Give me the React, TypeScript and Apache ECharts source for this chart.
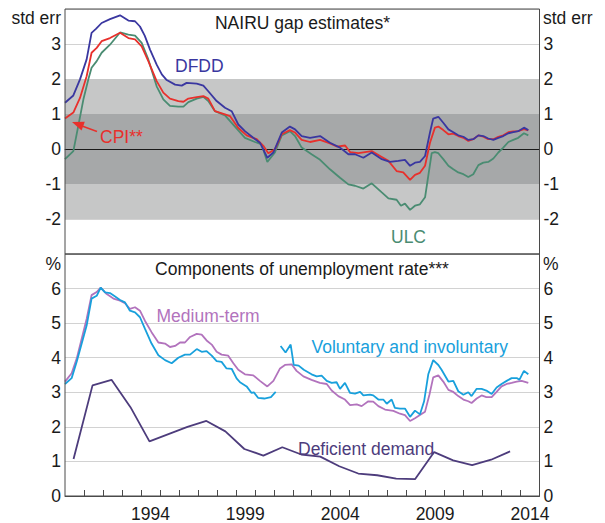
import React, { useEffect, useRef } from 'react';
import * as echarts from 'echarts';

// ---- Data (x = decimal year) ----
const dfdd: [number, number][] = [
  [1990.0, 1.32], [1990.44, 1.53], [1990.79, 1.99], [1991.14, 2.56], [1991.4, 3.32], [1991.63, 3.43], [1991.93, 3.6], [1992.37, 3.71], [1992.9, 3.82], [1993.34, 3.67], [1993.69, 3.65], [1993.95, 3.5], [1994.2, 3.24], [1994.48, 2.84], [1994.83, 2.41], [1995.1, 2.13], [1995.36, 1.97], [1995.8, 1.84], [1996.15, 1.81], [1996.41, 1.89], [1996.94, 1.87], [1997.29, 1.81], [1997.55, 1.65], [1997.99, 1.37], [1998.43, 1.18], [1998.78, 1.08], [1999.13, 0.7], [1999.48, 0.51], [1999.92, 0.32], [2000.27, 0.18], [2000.66, -0.25], [2000.98, -0.1], [2001.42, 0.47], [2001.85, 0.64], [2002.12, 0.56], [2002.47, 0.37], [2002.91, 0.32], [2003.44, 0.37], [2003.96, 0.18], [2004.49, 0.04], [2004.93, -0.15], [2005.28, -0.15], [2005.72, -0.25], [2006.16, -0.1], [2006.69, -0.29], [2007.12, -0.37], [2007.56, -0.34], [2007.91, -0.31], [2008.18, -0.48], [2008.44, -0.39], [2008.7, -0.37], [2008.97, -0.2], [2009.23, 0.47], [2009.4, 0.87], [2009.67, 0.92], [2009.93, 0.75], [2010.2, 0.56], [2010.46, 0.48], [2010.72, 0.39], [2010.99, 0.35], [2011.25, 0.26], [2011.51, 0.28], [2011.78, 0.39], [2012.04, 0.37], [2012.3, 0.3], [2012.57, 0.26], [2012.83, 0.32], [2013.09, 0.37], [2013.36, 0.45], [2013.62, 0.48], [2013.88, 0.51], [2014.18, 0.61], [2014.41, 0.54],
];

const cpi: [number, number][] = [
  [1990.0, 0.87], [1990.44, 1.04], [1990.79, 1.46], [1991.14, 2.08], [1991.4, 2.75], [1991.67, 2.89], [1991.93, 3.08], [1992.37, 3.17], [1992.9, 3.32], [1993.34, 3.17], [1993.69, 3.13], [1994.04, 2.93], [1994.39, 2.51], [1994.83, 1.94], [1995.18, 1.61], [1995.53, 1.44], [1995.97, 1.37], [1996.24, 1.35], [1996.5, 1.44], [1996.94, 1.48], [1997.29, 1.51], [1997.55, 1.44], [1997.9, 1.08], [1998.43, 0.99], [1998.69, 0.94], [1999.13, 0.6], [1999.57, 0.39], [2000.1, 0.28], [2000.45, 0.09], [2000.71, -0.12], [2001.06, -0.01], [2001.42, 0.42], [2001.85, 0.54], [2002.12, 0.47], [2002.47, 0.26], [2002.91, 0.2], [2003.44, 0.26], [2003.96, 0.16], [2004.32, 0.07], [2004.76, 0.1], [2005.02, -0.09], [2005.46, -0.12], [2005.81, -0.09], [2006.16, -0.06], [2006.6, -0.2], [2007.04, -0.34], [2007.47, -0.63], [2007.82, -0.67], [2008.18, -0.88], [2008.44, -0.74], [2008.7, -0.68], [2008.97, -0.48], [2009.23, 0.18], [2009.49, 0.61], [2009.67, 0.64], [2009.93, 0.54], [2010.2, 0.42], [2010.46, 0.44], [2010.72, 0.37], [2010.99, 0.32], [2011.25, 0.23], [2011.51, 0.28], [2011.78, 0.39], [2012.04, 0.35], [2012.3, 0.28], [2012.57, 0.28], [2012.83, 0.35], [2013.09, 0.39], [2013.36, 0.48], [2013.62, 0.5], [2013.88, 0.51], [2014.18, 0.57], [2014.41, 0.53],
];

const ulc: [number, number][] = [
  [1990.0, -0.29], [1990.44, -0.06], [1990.7, 0.66], [1990.97, 1.42], [1991.23, 1.99], [1991.4, 2.32], [1991.67, 2.51], [1991.93, 2.75], [1992.37, 2.98], [1992.9, 3.33], [1993.34, 3.27], [1993.69, 3.24], [1994.04, 3.03], [1994.39, 2.56], [1994.83, 1.79], [1995.18, 1.42], [1995.53, 1.23], [1995.97, 1.21], [1996.24, 1.21], [1996.5, 1.34], [1996.94, 1.44], [1997.29, 1.49], [1997.55, 1.37], [1997.9, 1.08], [1998.43, 0.96], [1999.13, 0.53], [1999.48, 0.32], [2000.01, 0.2], [2000.36, 0.13], [2000.66, -0.37], [2001.06, -0.1], [2001.42, 0.39], [2001.85, 0.51], [2002.12, 0.37], [2002.47, 0.04], [2002.99, -0.15], [2003.44, -0.31], [2003.96, -0.58], [2004.49, -0.82], [2004.93, -1.01], [2005.28, -1.05], [2005.72, -1.13], [2006.16, -0.98], [2006.69, -1.24], [2007.04, -1.41], [2007.47, -1.45], [2007.7, -1.62], [2007.91, -1.56], [2008.18, -1.74], [2008.44, -1.62], [2008.7, -1.58], [2008.97, -1.38], [2009.14, -0.77], [2009.32, -0.12], [2009.49, -0.09], [2009.67, -0.12], [2009.93, -0.29], [2010.2, -0.48], [2010.46, -0.58], [2010.72, -0.67], [2010.99, -0.72], [2011.25, -0.8], [2011.51, -0.72], [2011.78, -0.46], [2012.04, -0.39], [2012.3, -0.37], [2012.57, -0.27], [2012.83, -0.1], [2013.09, 0.04], [2013.36, 0.2], [2013.62, 0.26], [2013.88, 0.32], [2014.18, 0.45], [2014.41, 0.39],
];

const mediumTerm: [number, number][] = [
  [1990.0, 3.31], [1990.35, 3.55], [1990.62, 3.98], [1990.88, 4.55], [1991.14, 5.12], [1991.4, 5.81], [1991.67, 5.9], [1991.88, 6.03], [1992.2, 5.84], [1992.55, 5.71], [1992.9, 5.65], [1993.16, 5.58], [1993.42, 5.41], [1993.69, 5.46], [1993.95, 5.36], [1994.21, 5.07], [1994.56, 4.74], [1994.92, 4.44], [1995.27, 4.41], [1995.53, 4.31], [1995.8, 4.34], [1996.06, 4.44], [1996.32, 4.44], [1996.59, 4.6], [1996.94, 4.69], [1997.2, 4.67], [1997.46, 4.5], [1997.73, 4.38], [1997.99, 4.17], [1998.25, 4.09], [1998.6, 4.06], [1998.87, 3.84], [1999.13, 3.65], [1999.48, 3.52], [1999.92, 3.49], [2000.27, 3.33], [2000.66, 3.17], [2000.98, 3.33], [2001.33, 3.69], [2001.59, 3.79], [2001.94, 3.81], [2002.2, 3.62], [2002.56, 3.46], [2002.99, 3.36], [2003.43, 3.27], [2003.79, 3.24], [2004.05, 3.05], [2004.4, 2.89], [2004.75, 2.79], [2005.02, 2.63], [2005.37, 2.65], [2005.63, 2.6], [2005.98, 2.74], [2006.24, 2.73], [2006.51, 2.6], [2006.86, 2.5], [2007.3, 2.46], [2007.65, 2.38], [2007.91, 2.34], [2008.18, 2.17], [2008.44, 2.25], [2008.7, 2.34], [2008.97, 2.44], [2009.2, 2.93], [2009.4, 3.43], [2009.67, 3.49], [2009.93, 3.31], [2010.2, 3.07], [2010.46, 3.01], [2010.72, 2.89], [2010.99, 2.79], [2011.25, 2.74], [2011.42, 2.69], [2011.69, 2.82], [2011.95, 2.91], [2012.2, 2.86], [2012.48, 2.86], [2012.74, 3.01], [2013.0, 3.17], [2013.27, 3.24], [2013.53, 3.27], [2013.8, 3.31], [2014.06, 3.33], [2014.41, 3.27],
];

const voluntary: [number, number | string][] = [
  [1990.0, 3.24], [1990.35, 3.41], [1990.62, 3.89], [1990.88, 4.41], [1991.14, 4.93], [1991.4, 5.71], [1991.67, 5.79], [1991.88, 6.03], [1992.11, 5.89], [1992.37, 5.87], [1992.64, 5.77], [1992.9, 5.67], [1993.16, 5.6], [1993.42, 5.36], [1993.69, 5.31], [1993.95, 5.17], [1994.21, 4.84], [1994.56, 4.41], [1994.92, 4.07], [1995.27, 3.93], [1995.62, 3.84], [1995.97, 4.0], [1996.32, 4.09], [1996.59, 4.09], [1996.94, 4.25], [1997.2, 4.17], [1997.46, 4.19], [1997.73, 4.06], [1997.99, 3.9], [1998.25, 3.88], [1998.51, 3.69], [1998.78, 3.68], [1999.04, 3.4], [1999.22, 3.29], [1999.57, 3.17], [1999.83, 2.98], [1999.95, 3.0], [2000.17, 2.84], [2000.5, 2.82], [2000.85, 2.86], [2001.1, 3.01], [2001.23, '-'], [2001.36, 4.34], [2001.62, 4.15], [2001.89, 4.38], [2002.05, 3.79], [2002.31, 3.77], [2002.58, 3.65], [2002.99, 3.52], [2003.26, 3.46], [2003.52, 3.48], [2003.79, 3.33], [2004.05, 3.27], [2004.31, 3.29], [2004.49, 3.1], [2004.75, 3.27], [2005.02, 2.98], [2005.28, 2.96], [2005.55, 3.01], [2005.72, 2.91], [2006.07, 2.93], [2006.24, 2.91], [2006.51, 2.79], [2006.77, 2.79], [2006.95, 2.67], [2007.21, 2.79], [2007.38, 2.55], [2007.65, 2.53], [2007.91, 2.53], [2008.18, 2.29], [2008.44, 2.47], [2008.7, 2.36], [2008.92, 2.74], [2009.14, 3.52], [2009.4, 3.93], [2009.67, 3.79], [2009.84, 3.65], [2010.2, 3.31], [2010.46, 3.33], [2010.72, 3.03], [2010.99, 2.93], [2011.25, 3.0], [2011.42, 2.89], [2011.69, 3.1], [2011.95, 3.1], [2012.2, 3.05], [2012.48, 2.95], [2012.74, 3.14], [2013.0, 3.24], [2013.27, 3.33], [2013.53, 3.41], [2013.8, 3.41], [2013.94, 3.36], [2014.18, 3.62], [2014.41, 3.52],
];

const deficientDemand: [number, number][] = [
  [1990.45, 1.07], [1991.45, 3.2], [1992.45, 3.36], [1993.45, 2.57], [1994.45, 1.58], [1996.45, 2.0], [1997.45, 2.17], [1998.45, 1.87], [1999.45, 1.36], [2000.45, 1.17], [2001.45, 1.41], [2002.45, 1.2], [2003.45, 1.14], [2004.45, 0.86], [2005.45, 0.65], [2006.45, 0.6], [2007.45, 0.5], [2008.45, 0.49], [2009.45, 1.27], [2010.45, 1.03], [2011.45, 0.89], [2012.45, 1.05], [2013.45, 1.29],
];

const yearTicks: number[] = [1991, 1992, 1993, 1994, 1995, 1996, 1997, 1998, 1999, 2000, 2001, 2002, 2003, 2004, 2005, 2006, 2007, 2008, 2009, 2010, 2011, 2012, 2013, 2014];
const yearLabels: number[] = [1994, 1999, 2004, 2009, 2014];

const FONT = '"Liberation Sans", Arial, Helvetica, sans-serif';
const FS = 17.5;
const TXT = '#1a1a1a';
const BORDER = '#4a4a4a';
const GRID = '#d2d2d2';
const C_DFDD = '#3a37a0';
const C_CPI = '#e8302c';
const C_ULC = '#4a8c72';
const C_MED = '#b273bd';
const C_VOL = '#18a0dc';
const C_DEF = '#4d3c7c';

const GL = 65;
const GW = 474.5;

function lineSeries(data: any[], color: string, xi: number, yi: number) {
  return {
    type: 'line',
    xAxisIndex: xi,
    yAxisIndex: yi,
    data,
    showSymbol: false,
    symbol: 'none',
    connectNulls: false,
    lineStyle: { color, width: 1.8 },
    itemStyle: { color },
    z: 5,
    silent: true,
  };
}

function txt(text: string, x: number, y: number, fill: string, align: string = 'left') {
  return {
    type: 'text',
    x,
    y,
    z: 100,
    silent: true,
    style: { text, fill, font: `${FS}px ${FONT}`, textAlign: align, textVerticalAlign: 'middle' },
  };
}

export default function App() {
  const ref = useRef<HTMLDivElement>(null);
  useEffect(() => {
    const chart = echarts.init(ref.current!, null, { renderer: 'svg' });
    const xBase = (gi: number, showLabels: boolean) => ({
      type: 'value',
      gridIndex: gi,
      min: 1990,
      max: 2015,
      interval: 1,
      axisLine: { show: true, lineStyle: { color: BORDER, width: 1 } },
      axisTick: showLabels
        ? { show: true, inside: true, length: 6, customValues: yearTicks, lineStyle: { color: BORDER, width: 1 } }
        : { show: false },
      axisLabel: showLabels
        ? {
            show: true,
            customValues: yearLabels.map((y) => y + 0.5),
            formatter: (v: number) => String(Math.floor(v)),
            color: TXT,
            fontSize: FS,
            fontFamily: FONT,
            margin: 9,
          }
        : { show: false },
      splitLine: { show: false },
    });
    const yBase = (gi: number, pos: string, min: number, max: number, split: boolean) => ({
      type: 'value',
      gridIndex: gi,
      position: pos,
      min,
      max,
      interval: 1,
      axisLine: { show: false },
      axisTick: { show: false },
      axisLabel: {
        show: true,
        color: TXT,
        fontSize: FS,
        fontFamily: FONT,
        margin: pos === 'left' ? 4 : 4,
        formatter: (v: number) => (v === min || v === max ? (min === 0 && v === 0 ? '0' : '') : String(v)),
      },
      splitLine: { show: split, lineStyle: { color: GRID, width: 1 } },
    });

    const option: any = {
      animation: false,
      backgroundColor: '#ffffff',
      grid: [
        { left: GL, top: 9, width: GW, height: 245, show: true, borderColor: BORDER, borderWidth: 1, backgroundColor: 'transparent', z: 10 },
        { left: GL, top: 254, width: GW, height: 245.3, show: true, borderColor: BORDER, borderWidth: 1, backgroundColor: 'transparent', z: 10 },
      ],
      xAxis: [xBase(0, false), xBase(1, true)],
      yAxis: [
        yBase(0, 'left', -3, 4, true),
        yBase(0, 'right', -3, 4, false),
        yBase(1, 'left', 0, 7, true),
        yBase(1, 'right', 0, 7, false),
      ],
      series: [
        {
          type: 'line',
          xAxisIndex: 0,
          yAxisIndex: 0,
          data: [],
          z: 1,
          silent: true,
          markArea: { silent: true, itemStyle: { color: '#c6c7c7' }, data: [[{ yAxis: -2 }, { yAxis: 2 }]] },
        },
        {
          type: 'line',
          xAxisIndex: 0,
          yAxisIndex: 0,
          data: [],
          z: 2,
          silent: true,
          markArea: { silent: true, itemStyle: { color: '#a6a8a9' }, data: [[{ yAxis: -1 }, { yAxis: 1 }]] },
        },
        {
          type: 'line',
          xAxisIndex: 0,
          yAxisIndex: 0,
          data: [],
          z: 3,
          silent: true,
          markLine: {
            silent: true,
            symbol: 'none',
            label: { show: false },
            lineStyle: { color: '#1a1a1a', width: 1, type: 'solid' },
            data: [{ yAxis: 0 }],
          },
        },
        lineSeries(ulc, C_ULC, 0, 0),
        lineSeries(cpi, C_CPI, 0, 0),
        lineSeries(dfdd, C_DFDD, 0, 0),
        lineSeries(deficientDemand, C_DEF, 1, 2),
        lineSeries(mediumTerm, C_MED, 1, 2),
        lineSeries(voluntary, C_VOL, 1, 2),
      ],
      graphic: [
        txt('NAIRU gap estimates*', 302.5, 23, TXT, 'center'),
        txt('Components of unemployment rate***', 302, 269, TXT, 'center'),
        txt('std err', 61, 18, TXT, 'right'),
        txt('std err', 543, 18, TXT, 'left'),
        txt('%', 61, 264, TXT, 'right'),
        txt('%', 543, 264, TXT, 'left'),
        txt('DFDD', 175, 66, C_DFDD),
        txt('CPI**', 100, 136.5, C_CPI),
        txt('ULC', 391, 237, C_ULC),
        txt('Medium-term', 156.5, 316, C_MED),
        txt('Voluntary and involuntary', 311.5, 347, C_VOL),
        txt('Deficient demand', 298, 448.5, C_DEF),
        {
          type: 'line',
          z: 100,
          silent: true,
          shape: { x1: 82, y1: 126, x2: 97, y2: 131.5 },
          style: { stroke: C_CPI, lineWidth: 1.4 },
        },
        {
          type: 'polygon',
          z: 100,
          silent: true,
          shape: { points: [[72, 122], [81.6, 130.6], [84.8, 121.7]] },
          style: { fill: C_CPI },
        },
      ],
    };
    chart.setOption(option);
    return () => chart.dispose();
  }, []);
  return (
    <div
      ref={ref}
      style={{ position: 'fixed', left: 0, top: 0, width: 605, height: 523, background: '#fff' }}
    />
  );
}
